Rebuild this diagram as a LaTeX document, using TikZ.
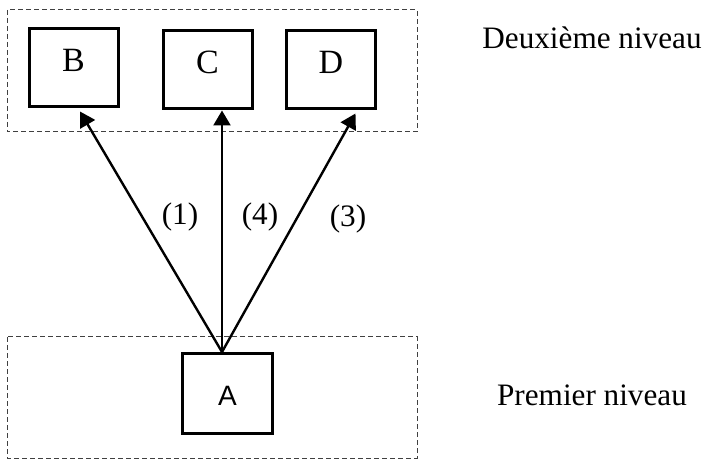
\documentclass[tikz,border=0pt]{standalone}
\usepackage{fontspec}
\setmainfont{Liberation Serif}
\newfontfamily\arialfont{Liberation Sans}
\usetikzlibrary{arrows.meta,positioning}

\begin{document}
\begin{tikzpicture}[x=0.5pt,y=-0.5pt,
        box/.style={draw,line width=1.5pt,minimum width=44.5pt,inner sep=0pt,
          text height=21.1pt,text depth=17.9pt,font=\fontsize{17}{20}\selectfont},
        frame/.style={draw=black!75,line width=0.5pt,dash pattern=on 2.5pt off 1.5pt},
        link/.style={-{Triangle[length=7.5pt,width=8.5pt]},line width=1.2pt},
        lbl/.style={anchor=base,inner sep=0pt,font=\fontsize{15.6}{18}\selectfont}]
  \useasboundingbox (0,0) rectangle (708,460);
  \draw[frame] (7,10) rectangle (417,132);
  \draw[frame] (7,337) rectangle (417,458);

  \node[box] (B) at (73.5,68) {B};
  \node[box,right=21pt of B,yshift=-1pt] (C) {C};
  \node[box,right=15.75pt of C] (D) {D};
  \node[box,minimum width=45pt,text height=26pt,text depth=14pt,
        font=\arialfont\fontsize{14}{16}\selectfont] (A) at (227.5,393.5) {A};

  \draw[link] ([xshift=-2.75pt]A.north) -- ([xshift=3.25pt,yshift=-1.5pt]B.south);
  \draw[link] ([xshift=-2.75pt]A.north) -- ([xshift=7.25pt]C.south);
  \draw[link] ([xshift=-2.75pt]A.north) -- ([xshift=12.25pt,yshift=-1.5pt]D.south);

  \node[lbl] (l1) at (180,225) {(1)};
  \node[lbl] (l4) at (260,225) {(4)};
  \node[lbl] (l3) at (348,227) {(3)};
  \node[lbl] (n2) at (592,49) {Deuxième niveau};
  \node[lbl] (n1) at (592,405) {Premier niveau};
\end{tikzpicture}
\end{document}
